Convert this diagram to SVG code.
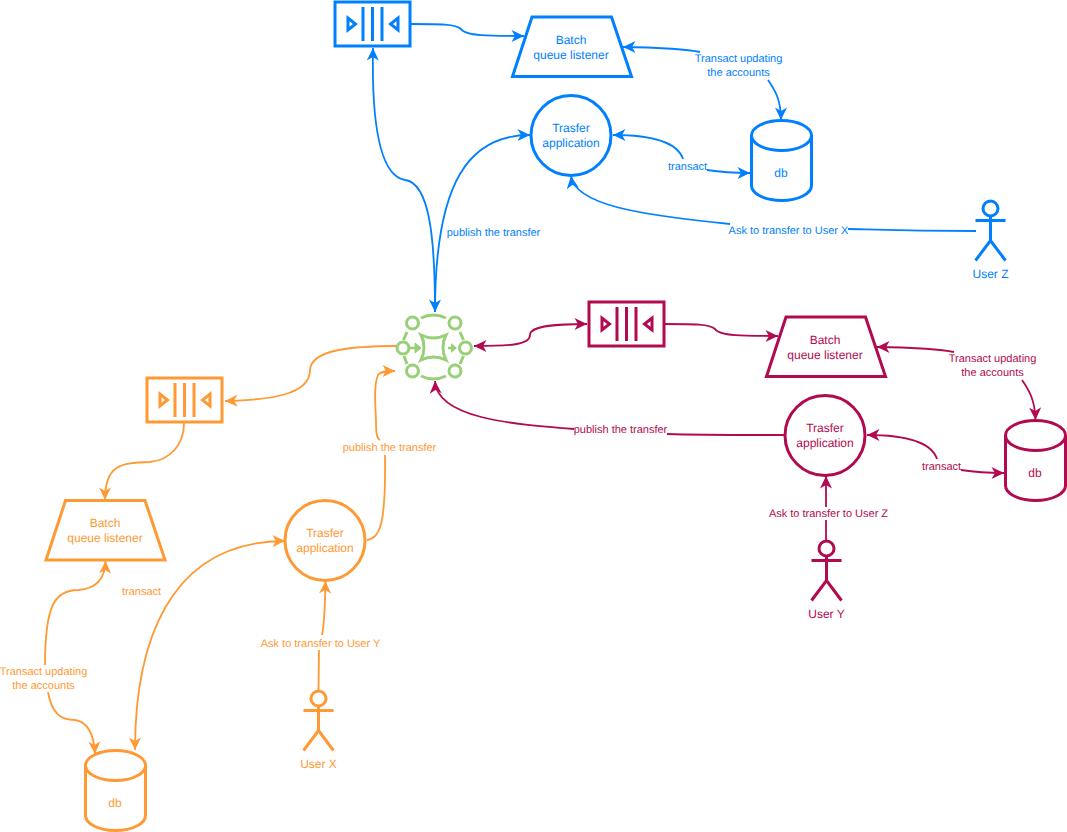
<svg xmlns="http://www.w3.org/2000/svg" xmlns:xlink="http://www.w3.org/1999/xlink" width="1067" height="832" viewBox="0 0 1067 832">
<style>
text{font-family:"Liberation Sans",Arial,sans-serif;text-anchor:middle;text-rendering:geometricPrecision}
.n{font-size:12px}
.l{font-size:11px}
.shape{fill:#fff;stroke-width:3;stroke-linejoin:miter}
.edge{fill:none;stroke-width:1.8}
.blue{stroke:#007fff}.tblue{fill:#007fff}
.red{stroke:#b20a50}.tred{fill:#b20a50}
.or{stroke:#ff9933}.tor{fill:#ff9933}
.hub{fill:none;stroke:#97d077;stroke-width:3}
</style>
<defs>
<marker id="ab" markerUnits="userSpaceOnUse" markerWidth="14" markerHeight="14" viewBox="-13 -7 14 14" refX="0" refY="0" orient="auto-start-reverse"><path d="M0,0L-12.500,-6L-9,0L-12.500,6Z" fill="#007fff"/></marker>
<marker id="ar" markerUnits="userSpaceOnUse" markerWidth="14" markerHeight="14" viewBox="-13 -7 14 14" refX="0" refY="0" orient="auto-start-reverse"><path d="M0,0L-12.500,-6L-9,0L-12.500,6Z" fill="#b20a50"/></marker>
<marker id="ao" markerUnits="userSpaceOnUse" markerWidth="14" markerHeight="14" viewBox="-13 -7 14 14" refX="0" refY="0" orient="auto-start-reverse"><path d="M0,0L-12.500,-6L-9,0L-12.500,6Z" fill="#ff9933"/></marker>
<g id="queue">
<rect x="0" y="0" width="75" height="44" fill="#fff"/>
<path d="M13,16L13,28L20.500,22ZM28,5V39M37.500,5V39M47,5V39M63,16L63,28L55.500,22Z" fill="#fff"/>
</g>
<g id="batch"><path d="M0.500,59.500L20,0H99.500L119.500,59.500Z" fill="#fff"/></g>
<g id="cyl"><path d="M0,15V65C0,73 13,80 30,80C47,80 60,73 60,65V15C60,7 47,0 30,0C13,0 0,7 0,15C0,23 13,30 30,30C47,30 60,23 60,15" fill="#fff"/></g>
<g id="actor"><circle cx="15" cy="8" r="7.500" fill="#fff"/><path d="M15,15.500V40M0,20H30M0,60L15,40L30,60" fill="none"/></g>
</defs>

<g id="connectors">
<g class="edge blue">
<path marker-end="url(#ab)" d="M411,24C440,24 456,24 461,29C465,36 490,36 524,36"/>
<path marker-start="url(#ab)" marker-end="url(#ab)" d="M373,48C372,100 375,175 405,180C430,183 435,240 435,312"/>
<path marker-start="url(#ab)" d="M530,135C470,135 435,180 435,312"/>
<path marker-start="url(#ab)" d="M623,47C660,47 690,50 700,52"/>
<path marker-end="url(#ab)" d="M768,80C775,90 781,100 781,120"/>
<path marker-start="url(#ab)" d="M613,135C641,135 676,138 683,159"/>
<path marker-end="url(#ab)" d="M707,170C720,172 735,173 750,173"/>
<path d="M976,231C900,231 860,229 848,229"/>
<path marker-end="url(#ab)" d="M730,224C640,215 575,205 571,176"/>
</g>
<g class="edge red">
<path marker-start="url(#ar)" marker-end="url(#ar)" d="M474,346C510,346 530,345 530,335C530,325 560,324 587,324"/>
<path marker-end="url(#ar)" d="M665,324C694,324 710,324 715,329C719,336 744,336 778,336"/>
<path marker-start="url(#ar)" d="M877,347C914,347 944,350 954,352"/>
<path marker-end="url(#ar)" d="M1022,380C1029,390 1035,400 1035.500,420"/>
<path marker-start="url(#ar)" d="M867,435C895,435 930,438 937,459"/>
<path marker-end="url(#ar)" d="M961,470C974,472 989,473 1004,473"/>
<path d="M785,435C740,435 700,435 667,434"/>
<path marker-end="url(#ar)" d="M574,429C510,424 437,418 435,381"/>
<path d="M826,540V520"/>
<path marker-end="url(#ar)" d="M826,507V476"/>
</g>
<g class="edge or">
<path marker-end="url(#ao)" d="M397,346C350,346 311,350 310,370C310,395 270,400 225,401"/>
<path marker-end="url(#ao)" d="M184,423C184,445 170,460 150,462C120,463 105,465 105,500"/>
<path marker-start="url(#ao)" d="M105.500,561C105,580 95,589 78,590C55,590 45,605 45,665"/>
<path marker-end="url(#ao)" d="M48,692C52,715 62,720 75,720C88,722 94,735 95,754"/>
<path marker-start="url(#ao)" marker-end="url(#ao)" d="M135,750C135,650 165,541 285,541"/>
<path d="M367,540C380,538 386,525 385,455"/>
<path marker-end="url(#ao)" d="M380,440C376,438 376,430 376,420C375,400 374,385 378,375C381,371 388,371 395,371"/>
<path d="M318.500,690L319,650"/>
<path marker-end="url(#ao)" d="M322,635C325,620 325,600 325.500,581"/>
</g>
<g class="l">
<text class="tblue" x="738.500" y="62">Transact updating</text>
<text class="tblue" x="738.500" y="76">the accounts</text>
<text class="tblue" x="687.500" y="170">transact</text>
<text class="tblue" x="788.500" y="234">Ask to transfer to User X</text>
<text class="tblue" x="493.500" y="236">publish the transfer</text>
<text class="tred" x="992.500" y="362">Transact updating</text>
<text class="tred" x="992.500" y="376">the accounts</text>
<text class="tred" x="941.500" y="470">transact</text>
<text class="tred" x="620.500" y="433">publish the transfer</text>
<text class="tred" x="828.500" y="517">Ask to transfer to User Z</text>
<text class="tor" x="43.500" y="675">Transact updating</text>
<text class="tor" x="43.500" y="689">the accounts</text>
<text class="tor" x="141.500" y="595">transact</text>
<text class="tor" x="389.500" y="451">publish the transfer</text>
<text class="tor" x="320.500" y="647">Ask to transfer to User Y</text>
</g>
</g>

<g id="hub" class="hub">
<circle cx="412.500" cy="323" r="6"/><circle cx="455" cy="323" r="6"/>
<circle cx="403" cy="348" r="6"/><circle cx="465.500" cy="348" r="6"/>
<circle cx="412.500" cy="371" r="6"/><circle cx="455" cy="371" r="6"/>
<path d="M421,318Q433.500,312 446,318M421,376Q433.500,382 446,376M407,332L403.500,340M460,332L463.500,340M404,356L407,364M463.500,356L460,364"/>
<path d="M421,335Q433.500,341 446,335Q440,347.500 446,360Q433.500,354 421,360Q427,347.500 421,335Z"/>
<path d="M409,348H417" stroke-width="2.500"/>
<path d="M415,343L421,348L415,353Z" fill="#97d077" stroke-width="1"/>
<path d="M448,348H454" stroke-width="2.500"/>
<path d="M451,343L457,348L451,353Z" fill="#97d077" stroke="none"/>
</g>

<g id="queue-blue" class="shape blue"><use xlink:href="#queue" x="335" y="2"/></g>
<g id="batch-blue"><use class="shape blue" xlink:href="#batch" x="512" y="17"/><text class="n tblue" x="571" y="44">Batch</text><text class="n tblue" x="571" y="59">queue listener</text></g>
<g id="app-blue"><circle class="shape blue" cx="571" cy="135.500" r="40"/><text class="n tblue" x="571" y="132">Trasfer</text><text class="n tblue" x="571" y="147">application</text></g>
<g id="db-blue"><use class="shape blue" xlink:href="#cyl" x="751.500" y="120.500"/><text class="n tblue" x="781" y="177">db</text></g>
<g id="user-z"><use class="shape blue" xlink:href="#actor" x="975.500" y="200.500"/><text class="n tblue" x="990.500" y="278">User Z</text></g>

<g id="queue-red" class="shape red"><use xlink:href="#queue" x="589" y="302"/></g>
<g id="batch-red"><use class="shape red" xlink:href="#batch" x="766" y="317"/><text class="n tred" x="825" y="344">Batch</text><text class="n tred" x="825" y="359">queue listener</text></g>
<g id="app-red"><circle class="shape red" cx="825" cy="435.500" r="40"/><text class="n tred" x="825" y="432">Trasfer</text><text class="n tred" x="825" y="447">application</text></g>
<g id="db-red"><use class="shape red" xlink:href="#cyl" x="1005.500" y="420.500"/><text class="n tred" x="1035" y="477">db</text></g>
<g id="user-y"><use class="shape red" xlink:href="#actor" x="811.500" y="540.500"/><text class="n tred" x="826.500" y="618">User Y</text></g>

<g id="queue-orange" class="shape or"><use xlink:href="#queue" x="147" y="378"/></g>
<g id="batch-orange"><use class="shape or" xlink:href="#batch" x="45.500" y="500.500"/><text class="n tor" x="105" y="527">Batch</text><text class="n tor" x="105" y="542">queue listener</text></g>
<g id="app-orange"><circle class="shape or" cx="325" cy="540.500" r="40"/><text class="n tor" x="325" y="537">Trasfer</text><text class="n tor" x="325" y="552">application</text></g>
<g id="db-orange"><use class="shape or" xlink:href="#cyl" x="85.500" y="750.500"/><text class="n tor" x="115" y="807">db</text></g>
<g id="user-x"><use class="shape or" xlink:href="#actor" x="303.500" y="690.500"/><text class="n tor" x="318.500" y="768">User X</text></g>
</svg>
